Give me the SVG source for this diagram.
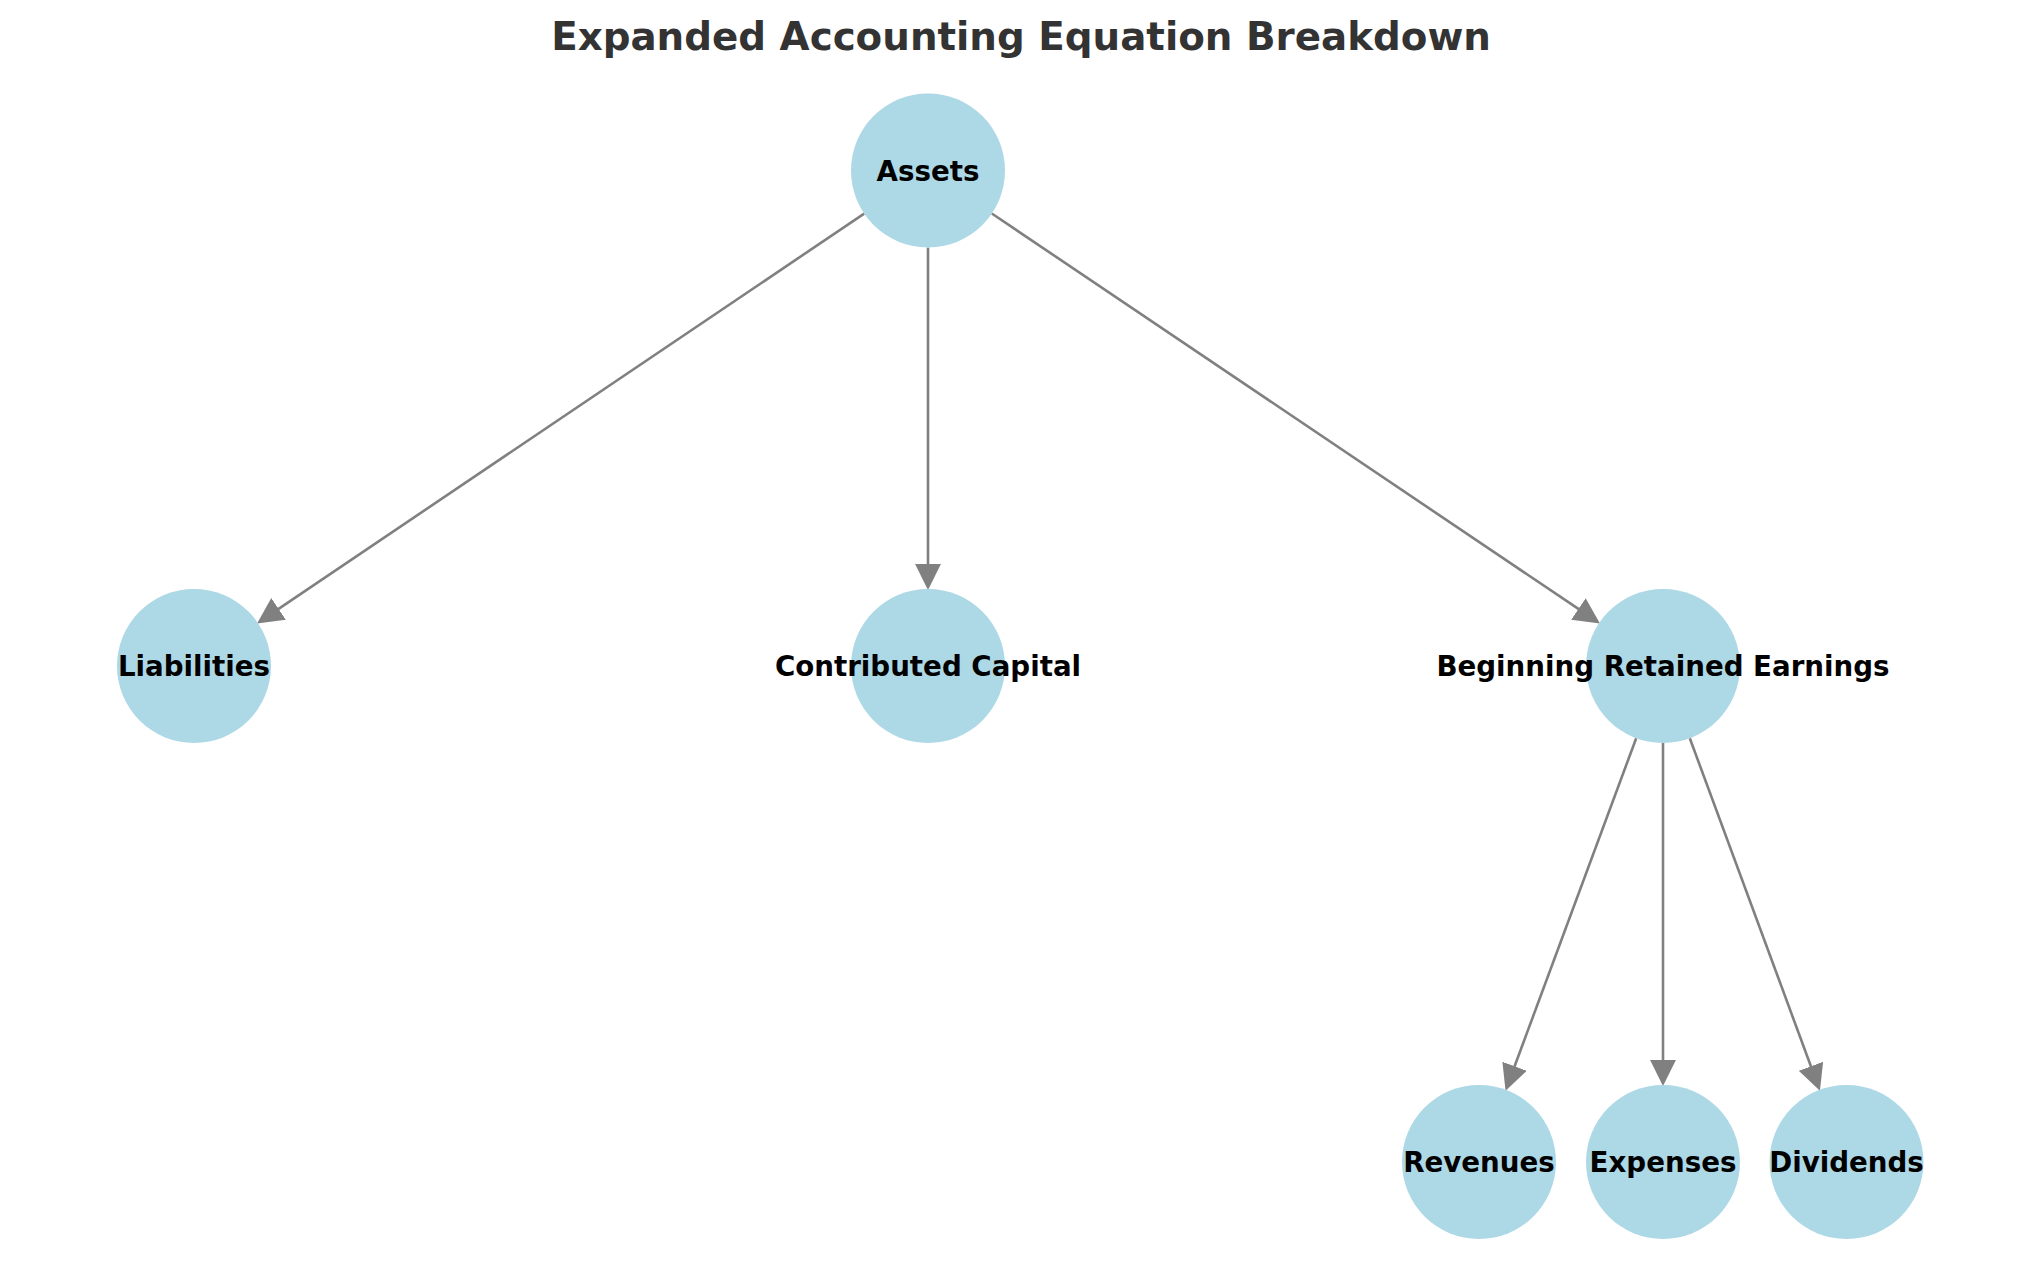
<svg xmlns="http://www.w3.org/2000/svg" width="2039" height="1286" viewBox="0 0 2039 1286">
<style>
.node circle{fill:#ADD8E6;}
.node text{font-family:"DejaVu Sans",sans-serif;font-weight:bold;font-size:27.7px;fill:#000;text-anchor:middle;}
.edge{stroke:#808080;stroke-width:2.6;fill:none;marker-end:url(#arr);}
.title{font-family:"DejaVu Sans",sans-serif;font-weight:bold;font-size:38.8px;fill:#333333;text-anchor:middle;}
</style>
<defs>
<marker id="arr" markerUnits="userSpaceOnUse" markerWidth="26" markerHeight="26" viewBox="0 0 25 25" refX="3" refY="12.5" orient="auto">
<path d="M0,0 L25,12.5 L0,25 Z" fill="#808080"/>
</marker>
</defs>
<rect width="2039" height="1286" fill="#ffffff"/>
<text class="title" x="1021" y="50">Expanded Accounting Equation Breakdown</text>
<g id="edges">
<line class="edge" x1="864.2" y1="213.6" x2="276.0" y2="610.6"/>
<line class="edge" x1="928" y1="247.5" x2="928" y2="567"/>
<line class="edge" x1="991.8" y1="213.5" x2="1581.0" y2="610.7"/>
<line class="edge" x1="1636.2" y1="738.2" x2="1513.5" y2="1069.2"/>
<line class="edge" x1="1663" y1="743" x2="1663" y2="1063"/>
<line class="edge" x1="1689.8" y1="738.2" x2="1812.0" y2="1069.2"/>
</g>
<g id="node-assets" class="node"><circle cx="928" cy="170.5" r="77"/><text x="928" y="180.5">Assets</text></g>
<g id="node-liabilities" class="node"><circle cx="194" cy="666" r="77"/><text x="194" y="676">Liabilities</text></g>
<g id="node-contributed-capital" class="node"><circle cx="928" cy="666" r="77"/><text x="928" y="676">Contributed Capital</text></g>
<g id="node-beginning-retained-earnings" class="node"><circle cx="1663" cy="666" r="77"/><text x="1663" y="676">Beginning Retained Earnings</text></g>
<g id="node-revenues" class="node"><circle cx="1479" cy="1162" r="77"/><text x="1479" y="1172">Revenues</text></g>
<g id="node-expenses" class="node"><circle cx="1663" cy="1162" r="77"/><text x="1663" y="1172">Expenses</text></g>
<g id="node-dividends" class="node"><circle cx="1846.5" cy="1162" r="77"/><text x="1846.5" y="1172">Dividends</text></g>
</svg>
